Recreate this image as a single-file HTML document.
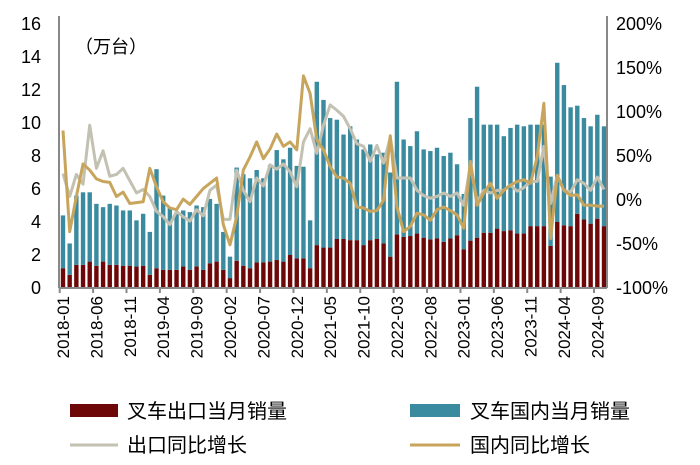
<!DOCTYPE html>
<html><head><meta charset="utf-8">
<style>
html,body{margin:0;padding:0;background:#fff;}
svg{display:block;font-family:"Liberation Sans","Noto Sans CJK SC",sans-serif;}
</style></head>
<body>
<svg id="chart" width="700" height="465" viewBox="0 0 700 465" xmlns="http://www.w3.org/2000/svg">
<g id="bars"></g>
<g id="lines"></g>
<g id="axes"></g>
<text x="75" y="53" font-size="18" fill="#000">（万台）</text>
<g>
<g>
<rect x="70" y="404" width="48" height="13" fill="#6e0808"/>
<text x="127" y="418" font-size="20">叉车出口当月销量</text></g>
<g>
<rect x="410" y="404" width="50" height="13" fill="#3b8ba0"/>
<text x="470" y="418" font-size="20">叉车国内当月销量</text></g>
<g>
<line x1="70" y1="445" x2="118" y2="445" stroke="#c3c1b2" stroke-width="3"/>
<text x="127" y="452" font-size="20">出口同比增长</text></g>
<g>
<line x1="410" y1="445" x2="460" y2="445" stroke="#c8a55c" stroke-width="3"/>
<text x="470" y="452" font-size="20">国内同比增长</text></g>
</g>
</svg>
<script>
const months = (function(){const a=[];for(let y=2018;y<=2024;y++)for(let m=1;m<=12;m++){if(y===2024&&m>10)break;a.push(y+'-'+String(m).padStart(2,'0'));}return a;})();
const exportSales = [1.2,0.8,1.4,1.4,1.6,1.35,1.6,1.4,1.4,1.35,1.35,1.3,1.35,0.8,1.2,1.1,1.1,1.1,1.3,1.1,1.3,1.1,1.5,1.6,1.1,0.6,1.65,1.35,
1.2,1.55,1.55,1.6,1.7,1.6,2.0,1.8,1.8,1.2,2.6,2.45,2.45,2.97,2.97,2.9,2.9,2.6,2.9,2.97,2.7,1.9,3.25,3.1,3.15,
3.3,3.05,2.95,3.0,2.8,3.0,3.2,2.35,2.87,3.05,3.35,3.35,3.6,3.45,3.5,3.3,3.3,3.75,3.75,3.75,2.55,4.0,3.8,3.75,4.5,4.15,3.9,4.2,3.75];
const domesticSales = [3.2,1.9,4.2,4.4,4.2,3.75,3.3,3.7,3.6,3.35,3.35,2.8,3.15,2.6,6.0,4.5,3.8,3.5,3.4,3.5,3.7,3.8,3.9,3.5,2.3,1.3,5.65,5.55,
5.45,5.6,5.1,5.85,6.66,6.2,6.5,5.6,5.55,2.9,9.9,8.95,7.85,7.23,6.33,6.9,6.1,5.8,5.8,5.13,5.5,5.1,9.25,5.9,5.45,
6.2,5.35,5.35,5.5,5.2,5.2,4.3,3.35,7.43,9.15,6.55,6.55,6.3,5.75,6.2,6.6,6.5,6.15,6.15,6.15,4.2,9.65,8.5,7.2,6.55,6.15,5.9,6.3,6.05];
const exportYoY = [30,4,29,18,85,36,56,27,29,36,22,8,12,4,-13,-19,-28,-13,-19,-24,-11,-18,11,17,-22,-22,34,11,
-2,25,16,40,35,41,32,15,66,81,53,85,108,102,95,81,64,61,44,62,42,71,25,25,25,
11,5,2,4,8,4,8,-6,40,-2,11,8,11,11,17,10,14,21,21,61,-4,28,11,9,23,19,11,26,12];
const domesticYoY = [79,-36,4,41,34,24,21,20,4,9,-4,-3,-2,36,15,-2,-9,-11,1,-5,4,13,19,25,-28,-51,
-19,34,49,66,47,58,75,61,66,57,141,121,68,57,38,26,25,19,-8,-9,-13,-12,0,73,-8,-36,-30,
-15,-17,-23,-11,-8,-12,-17,-32,44,-6,8,19,2,11,17,21,23,19,49,110,-44,28,11,5,6,-6,-6,-7,-7];
const leftTicks = [0,2,4,6,8,10,12,14,16];
const rightTicks = [-100,-50,0,50,100,150,200];

const NS='http://www.w3.org/2000/svg';
const X0=63, X1=604, YB=288, YT=24;
const x = i => X0 + i*(X1-X0)/(months.length-1);
const yL = v => YB - v/16*(YB-YT);
const yR = p => YB - (p+100)/300*(YB-YT);
function mk(tag,attrs,parent){const e=document.createElementNS(NS,tag);for(const k in attrs)e.setAttribute(k,attrs[k]);parent.appendChild(e);return e;}
const gb=document.getElementById('bars'), gl=document.getElementById('lines'), ga=document.getElementById('axes');
const bw=4.4;
months.forEach((m,i)=>{
  const e=exportSales[i], d=domesticSales[i];
  const r1=mk('rect',{x:x(i)-bw/2,y:yL(e),width:bw,height:yL(0)-yL(e),fill:'#6e0808'},gb);
  
  
  const r2=mk('rect',{x:x(i)-bw/2,y:yL(e+d),width:bw,height:yL(e)-yL(e+d),fill:'#3b8ba0'},gb);
  
  
});
const p1=mk('polyline',{points:exportYoY.map((v,i)=>x(i)+','+yR(v)).join(' '),fill:'none',stroke:'#c3c1b2','stroke-width':3,'stroke-linejoin':'round'},gl);


const p2=mk('polyline',{points:domesticYoY.map((v,i)=>x(i)+','+yR(v)).join(' '),fill:'none',stroke:'#c8a55c','stroke-width':3,'stroke-linejoin':'round'},gl);


const la=mk('line',{x1:59,y1:YT-8,x2:59,y2:YB,stroke:'#888','stroke-width':2},ga);


const ra=mk('line',{x1:607,y1:YT-8,x2:607,y2:YB,stroke:'#888','stroke-width':2},ga);


const ba=mk('line',{x1:59,y1:YB,x2:607,y2:YB,stroke:'#888','stroke-width':2},ga);


leftTicks.forEach(t=>{
  const tx=mk('text',{x:41,y:yL(t)+6,'font-size':18,'text-anchor':'end'},ga);
  tx.textContent=t;
  
  
});
rightTicks.forEach(t=>{
  const tx=mk('text',{x:616,y:yR(t)+6,'font-size':18},ga);
  tx.textContent=t+'%';
  
  
});
months.forEach((m,i)=>{
  if(i%5!==0) return;
  const tk=mk('line',{x1:x(i)-3.3,y1:YB,x2:x(i)-3.3,y2:YB+5,stroke:'#888','stroke-width':2},ga);
  
  
  const tx=mk('text',{x:0,y:0,'font-size':17,'text-anchor':'end',transform:'translate('+(x(i)+6)+','+(YB+8)+') rotate(-90)'},ga);
  tx.textContent=m;
  
  
});
</script>
</body></html>
